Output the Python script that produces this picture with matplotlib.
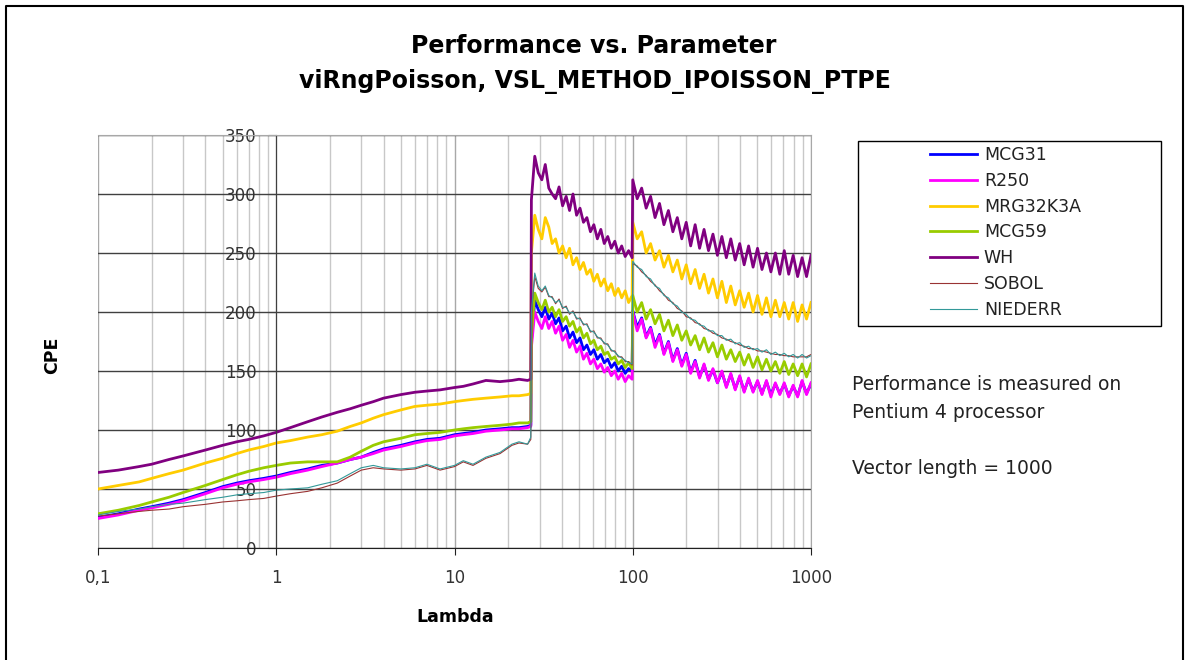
import numpy as np
import matplotlib.pyplot as plt
from matplotlib.lines import Line2D
from matplotlib.patches import Rectangle
from matplotlib.ticker import FixedLocator, NullFormatter

plt.rcParams['font.family'] = ['DejaVu Sans']

# lambda values: smooth part, first noisy part (27..100), second noisy part (100..1000)
lam_lo = [0.1, 0.13, 0.17, 0.2, 0.25, 0.3, 0.4, 0.5, 0.6, 0.7, 0.85, 1, 1.2, 1.5, 1.8,
          2.2, 2.6, 3, 3.5, 4, 5, 6, 7, 8.3, 10, 11.2, 12.7, 15, 18, 21, 23, 25.7, 26.8]
lam_mid = [27.0, 28.2, 29.5, 30.9, 32.3, 33.8, 35.3, 36.9, 38.6, 40.4, 42.3, 44.2, 46.2,
           48.4, 50.6, 52.9, 55.3, 57.9, 60.5, 63.3, 66.2, 69.2, 72.4, 75.8, 79.3, 82.9,
           86.7, 90.7, 94.8, 99.2]
lam_hi = [100, 105.9, 112.2, 118.9, 125.9, 133.4, 141.3, 149.6, 158.5, 167.9, 177.8,
          188.4, 199.5, 211.3, 223.9, 237.1, 251.2, 266.1, 281.8, 298.5, 316.2, 335.0,
          354.8, 375.8, 398.1, 421.7, 446.7, 473.2, 501.2, 530.9, 562.3, 595.7, 631.0,
          668.3, 707.9, 749.9, 794.3, 841.4, 891.3, 944.1, 1000]

mcg31 = ([26, 29, 33, 35, 38, 41, 47, 52, 55, 57, 59, 61, 64, 67, 70, 72, 75, 77, 81, 84,
          87, 90, 92, 93, 96, 97, 98, 100, 101, 102, 102, 103, 104]
         + [175, 210, 202, 196, 204, 194, 199, 190, 195, 184, 188, 178, 183, 174, 178, 168,
            172, 164, 168, 160, 164, 157, 160, 153, 157, 150, 154, 148, 152, 150]
         + [201, 187, 195, 179, 187, 172, 181, 165, 175, 159, 169, 155, 165, 149, 159, 145,
            155, 143, 151, 140, 149, 137, 147, 135, 145, 133, 143, 133, 141, 131, 141, 130,
            139, 131, 139, 129, 137, 129, 141, 131, 139])
r250 = ([25, 28, 32, 34, 37, 40, 46, 51, 54, 56, 58, 60, 63, 66, 69, 72, 75, 77, 80, 83,
         86, 89, 91, 92, 95, 96, 97, 99, 100, 101, 101, 102, 103]
        + [170, 200, 192, 186, 196, 186, 192, 182, 188, 176, 181, 170, 176, 166, 171, 160,
           165, 156, 160, 152, 156, 149, 153, 146, 150, 143, 148, 141, 146, 143]
        + [200, 184, 194, 178, 186, 170, 180, 164, 174, 158, 168, 154, 164, 148, 158, 144,
           156, 142, 152, 140, 150, 136, 148, 134, 146, 132, 144, 132, 142, 130, 142, 128,
           140, 130, 140, 128, 138, 128, 142, 130, 140])
mrg32k3a = ([50, 53, 56, 59, 63, 66, 72, 76, 80, 83, 86, 89, 91, 94, 96, 99, 103, 106, 110,
             113, 117, 120, 121, 122, 124, 125, 126, 127, 128, 129, 129, 130, 131]
            + [250, 282, 270, 262, 280, 272, 258, 262, 250, 256, 246, 254, 240, 246, 236,
               242, 232, 236, 226, 232, 222, 228, 218, 224, 214, 220, 212, 218, 208, 214]
            + [276, 262, 268, 250, 258, 244, 252, 238, 248, 234, 244, 228, 240, 224, 236,
               220, 232, 216, 228, 212, 226, 208, 222, 206, 218, 204, 216, 200, 214, 198,
               212, 196, 210, 196, 208, 194, 208, 192, 206, 194, 208])
mcg59 = ([29, 32, 36, 39, 43, 47, 53, 58, 62, 65, 68, 70, 72, 73, 73, 73, 77, 82, 87, 90,
          93, 96, 97, 98, 100, 101, 102, 103, 104, 105, 106, 106, 107]
         + [180, 216, 208, 202, 210, 200, 204, 196, 202, 192, 196, 188, 192, 183, 187, 178,
            182, 173, 176, 168, 171, 164, 166, 160, 162, 156, 159, 153, 157, 152]
         + [214, 200, 208, 194, 202, 190, 198, 184, 193, 180, 189, 176, 184, 172, 180, 168,
            178, 166, 174, 162, 172, 160, 168, 158, 166, 155, 164, 153, 162, 151, 160, 150,
            158, 148, 158, 147, 156, 146, 156, 145, 156])
wh = ([64, 66, 69, 71, 75, 78, 83, 87, 90, 92, 95, 98, 102, 107, 111, 115, 118, 121, 124,
       127, 130, 132, 133, 134, 136, 137, 139, 142, 141, 142, 143, 142, 143]
      + [295, 332, 318, 312, 325, 305, 300, 296, 306, 290, 298, 286, 300, 282, 288, 276, 280,
         268, 274, 262, 270, 258, 264, 254, 260, 250, 256, 247, 252, 246]
      + [312, 296, 305, 288, 298, 280, 292, 274, 286, 268, 280, 262, 276, 256, 274, 254, 270,
         252, 266, 248, 264, 246, 262, 244, 258, 240, 256, 238, 254, 236, 250, 234, 250,
         232, 252, 232, 248, 230, 246, 230, 248])
sobol = ([27, 29, 31, 32, 33, 35, 37, 39, 40, 41, 42, 44, 46, 48, 51, 55, 61, 66, 68, 67,
          66, 67, 70, 66, 69, 73, 70, 76, 80, 87, 89, 88, 92]
         + [198, 230, 220, 217, 221, 213, 213, 207, 211, 203, 205, 198, 201, 194, 195, 189,
            190, 183, 184, 178, 178, 173, 173, 167, 167, 162, 162, 158, 158, 155]
         + [241, 239, 234, 231, 226, 223, 218, 215, 210, 208, 203, 201, 196, 195, 191, 190,
            186, 185, 182, 181, 178, 177, 175, 174, 172, 171, 169, 169, 167, 167, 166, 165,
            164, 164, 163, 163, 162, 162, 162, 162, 164])
niederr = ([28, 31, 33, 35, 37, 38, 41, 43, 45, 46, 47, 49, 50, 51, 54, 57, 63, 68, 70, 68,
            67, 68, 71, 67, 70, 74, 71, 77, 81, 88, 90, 88, 94]
           + [200, 233, 222, 218, 222, 214, 212, 208, 210, 204, 204, 199, 200, 195, 194,
              190, 189, 184, 183, 179, 177, 174, 172, 168, 166, 163, 161, 159, 157, 156]
           + [243, 238, 236, 230, 228, 222, 220, 214, 212, 207, 205, 200, 198, 194, 193,
              189, 188, 184, 184, 180, 180, 176, 177, 173, 174, 170, 171, 168, 169, 166,
              168, 164, 166, 163, 165, 162, 164, 161, 164, 161, 163])

names = ['MCG31', 'R250', 'MRG32K3A', 'MCG59', 'WH', 'SOBOL', 'NIEDERR']
colors = ['#0000FF', '#FF00FF', '#FFCC00', '#99CC00', '#800080', '#993333', '#339999']
widths = [2.0, 2.0, 2.0, 2.0, 2.0, 0.8, 0.8]

lam = lam_lo + lam_mid + lam_hi
series = [mcg31, r250, mrg32k3a, mcg59, wh, sobol, niederr]

W, H = 1186, 660
fig = plt.figure(figsize=(W / 100, H / 100), dpi=100)
ax = fig.add_axes([98 / W, 1 - 548 / H, 713 / W, 413 / H])

for name, col, lw, y in zip(names, colors, widths, series):
    ax.plot(lam, y, color=col, lw=lw, label=name)

ax.set_xscale('log')
ax.set_xlim(0.1, 1000)
ax.set_ylim(0, 350)
ax.set_yticks(np.arange(0, 351, 50))
ax.set_xticks([0.1, 1, 10, 100, 1000])
ax.set_xticklabels(['0,1', '1', '10', '100', '1000'])
ax.xaxis.set_minor_locator(FixedLocator([m * d for d in [0.1, 1, 10, 100] for m in range(2, 10)]))
ax.xaxis.set_minor_formatter(NullFormatter())

ax.grid(True, which='minor', axis='x', color='#C8C8C8', lw=1.0)
ax.grid(True, which='major', axis='x', color='#A8A8A8', lw=1.0)
ax.grid(True, which='major', axis='y', color='#404040', lw=1.0)
ax.set_axisbelow(True)

ax.spines['left'].set_position(('data', 1))
ax.spines['left'].set_color('#404040')
ax.spines['bottom'].set_color('#202020')
ax.spines['top'].set_color('#A8A8A8')
ax.spines['right'].set_color('#A8A8A8')

ax.tick_params(axis='x', which='major', direction='out', length=5, pad=10,
               labelsize=12, labelcolor='#333333', color='#202020')
ax.tick_params(axis='x', which='minor', length=0)
ax.tick_params(axis='y', direction='out', length=6, pad=8,
               labelsize=12, labelcolor='#333333', color='#404040')

fig.text(594 / W, 1 - 46 / H, 'Performance vs. Parameter', ha='center', va='center',
         fontsize=17, fontweight='bold')
fig.text(595 / W, 1 - 81 / H, 'viRngPoisson, VSL_METHOD_IPOISSON_PTPE', ha='center',
         va='center', fontsize=17, fontweight='bold')
fig.text(52 / W, 1 - 355 / H, 'CPE', rotation=90, ha='center', va='center',
         fontsize=12.5, fontweight='bold')
fig.text(455 / W, 1 - 617 / H, 'Lambda', ha='center', va='center',
         fontsize=12.5, fontweight='bold')

# legend frame drawn separately so it can be wider than its content
fig.add_artist(Rectangle((858 / W, 1 - 326 / H), 303 / W, 185 / H, transform=fig.transFigure,
                         fill=False, edgecolor='black', lw=1.0))
fig.legend(loc='upper left', bbox_to_anchor=(930 / W, 1 - 146 / H), frameon=False,
           fontsize=12.5, handlelength=2.7, handletextpad=0.4, labelspacing=0.45,
           borderpad=0, borderaxespad=0, labelcolor='#222222')

for txt, yy in [('Performance is measured on', 385), ('Pentium 4 processor', 412),
                ('Vector length = 1000', 469)]:
    fig.text(852 / W, 1 - yy / H, txt, ha='left', va='center', fontsize=13.5, color='#222222')

# outer chart border
fig.add_artist(Line2D([6 / W, 6 / W, 1183 / W, 1183 / W], [0, 1 - 6 / H, 1 - 6 / H, 0],
                      transform=fig.transFigure, color='black', lw=1.5))

fig.savefig('out.png', dpi=100)
